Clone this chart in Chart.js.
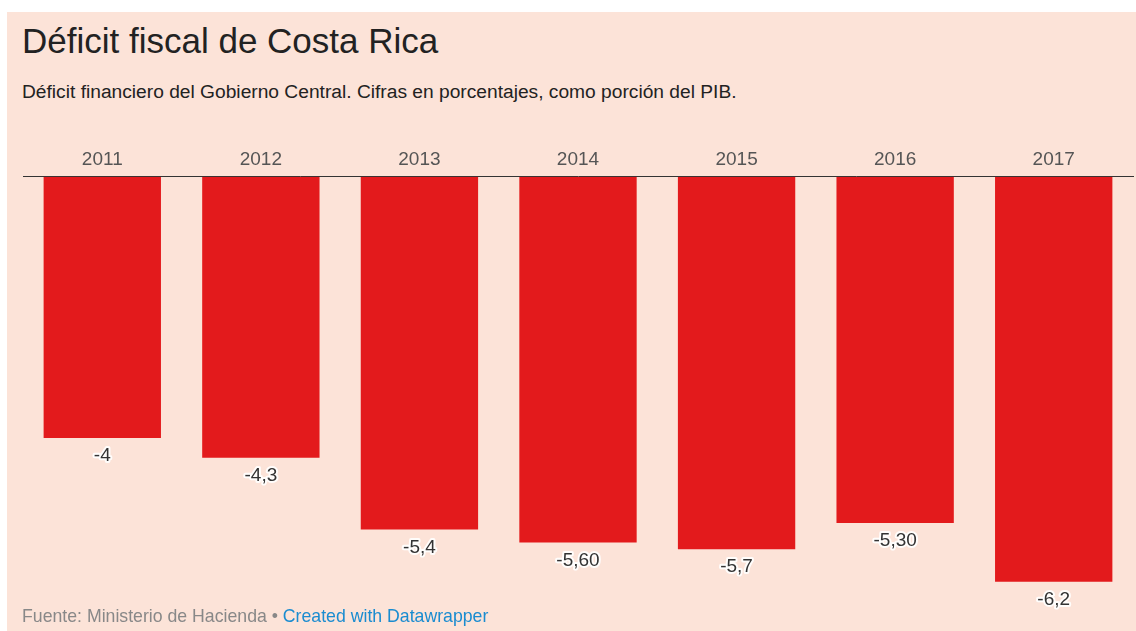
<!DOCTYPE html>
<html>
<head>
<meta charset="utf-8">
<script src="https://cdn.jsdelivr.net/npm/chart.js@4"></script>
<style>
  body { margin: 0; background: #fff; font-family: "Liberation Sans", Arial, sans-serif; }
  #box { position: absolute; left: 7px; top: 12px; width: 1129px; height: 619px; background: #fce3d8; }
  #box div { line-height: 1; white-space: nowrap; }
  #title { position: absolute; left: 15px; top: 11px; font-size: 35px; color: #222; }
  #sub { position: absolute; left: 15px; top: 70px; font-size: 19.2px; color: #222; }
  #foot { position: absolute; left: 15px; top: 596px; font-size: 17.7px; color: #888; }
  #foot span { color: #1a8cd0; }
  #wrap { position: absolute; left: 0; top: 130px; width: 1129px; height: 489px; }
</style>
</head>
<body>
<div id="box">
  <div id="title">Déficit fiscal de Costa Rica</div>
  <div id="sub">Déficit financiero del Gobierno Central. Cifras en porcentajes, como porción del PIB.</div>
  <div id="wrap"><canvas id="chart"></canvas></div>
  <div id="foot">Fuente: Ministerio de Hacienda • <span>Created with Datawrapper</span></div>
</div>
<script>
// Data
const years = ['2011', '2012', '2013', '2014', '2015', '2016', '2017'];
const deficit = [-4, -4.3, -5.4, -5.6, -5.7, -5.3, -6.2];
const valueLabels = ['-4', '-4,3', '-5,4', '-5,60', '-5,7', '-5,30', '-6,2'];

// draws the value under each bar with a light halo
const barLabels = {
    id: 'barLabels',
    afterDatasetsDraw(chart) {
        const ctx = chart.ctx;
        const meta = chart.getDatasetMeta(0);
        ctx.save();
        ctx.font = '19px "Liberation Sans", Arial, sans-serif';
        ctx.textAlign = 'center';
        ctx.textBaseline = 'middle';
        ctx.lineJoin = 'round';
        meta.data.forEach((bar, i) => {
            const y = bar.y + 18;
            ctx.strokeStyle = 'rgba(255,255,255,0.9)';
            ctx.lineWidth = 4;
            ctx.strokeText(valueLabels[i], bar.x, y);
            ctx.fillStyle = '#333';
            ctx.fillText(valueLabels[i], bar.x, y);
        });
        ctx.restore();
    }
};

new Chart(document.getElementById('chart'), {
    type: 'bar',
    data: {
        labels: years,
        datasets: [{ data: deficit, backgroundColor: '#e31a1c', categoryPercentage: 0.74, barPercentage: 1 }]
    },
    options: {
        responsive: true,
        maintainAspectRatio: false,
        animation: false,
        layout: { padding: { left: 16, right: 3, top: 0, bottom: 10 } },
        plugins: { legend: { display: false }, tooltip: { enabled: false } },
        scales: {
            x: {
                position: 'top',
                grid: { display: false, drawTicks: false },
                border: { color: '#333', width: 1 },
                ticks: { color: '#555', font: { size: 19, family: '"Liberation Sans", Arial, sans-serif' }, padding: 6 }
            },
            y: { display: false, min: -6.8, max: 0 }
        }
    },
    plugins: [barLabels]
});
</script>
</body>
</html>
